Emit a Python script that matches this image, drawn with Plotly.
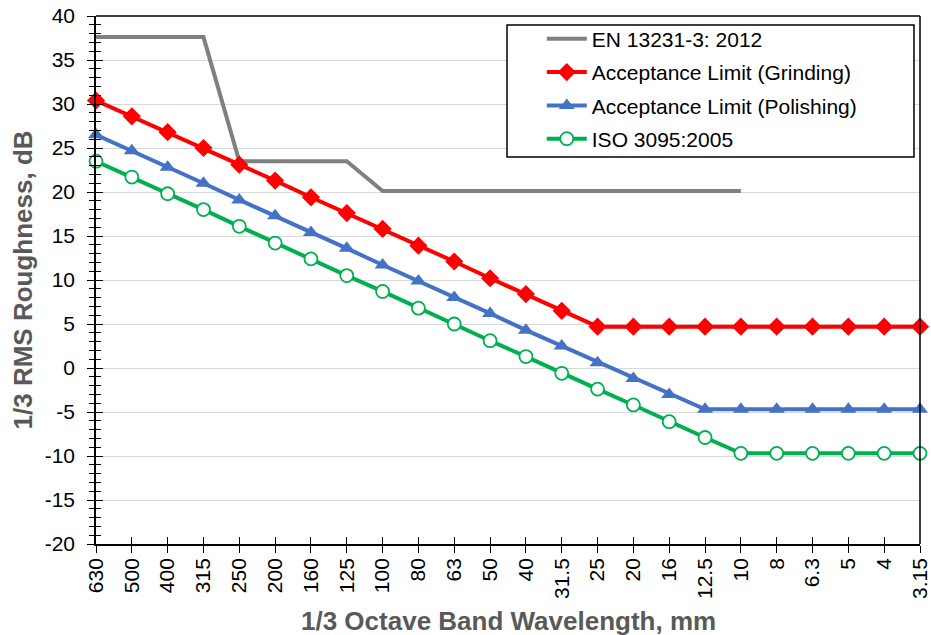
import plotly.graph_objects as go

categories = ["630", "500", "400", "315", "250", "200", "160", "125", "100", "80",
              "63", "50", "40", "31.5", "25", "20", "16", "12.5", "10", "8",
              "6.3", "5", "4", "3.15"]

en13231 = [37.6, 37.6, 37.6, 37.6, 23.5, 23.5, 23.5, 23.5, 20.1, 20.1,
           20.1, 20.1, 20.1, 20.1, 20.1, 20.1, 20.1, 20.1, 20.1, None,
           None, None, None, None]
grinding = [30.4, 28.6, 26.8, 25.0, 23.1, 21.3, 19.4, 17.6, 15.8, 13.9,
            12.1, 10.2, 8.4, 6.5, 4.7, 4.7, 4.7, 4.7, 4.7, 4.7,
            4.7, 4.7, 4.7, 4.7]
polishing = [26.5, 24.7, 22.8, 21.0, 19.1, 17.3, 15.4, 13.6, 11.7, 9.9,
             8.0, 6.2, 4.3, 2.5, 0.6, -1.2, -3.0, -4.7, -4.7, -4.7,
             -4.7, -4.7, -4.7, -4.7]
iso3095 = [23.5, 21.7, 19.8, 18.0, 16.1, 14.2, 12.4, 10.5, 8.7, 6.8,
           5.0, 3.1, 1.3, -0.6, -2.4, -4.2, -6.1, -7.9, -9.7, -9.7,
           -9.7, -9.7, -9.7, -9.7]

y_tick_values = [-20, -15, -10, -5, 0, 5, 10, 15, 20, 25, 30, 35, 40]
y_tick_labels = ["-20", "-15", "-10", "-5", "0", "5", "10", "15", "20", "25", "30", "35", "40"]

FONT = "Arial, Liberation Sans, sans-serif"
LW = 4

fig = go.Figure()
fig.add_trace(go.Scatter(x=categories, y=en13231, name="EN 13231-3: 2012", mode="lines",
                         legendgroup="a",
                         line=dict(color="#808080", width=LW), cliponaxis=False))
fig.add_trace(go.Scatter(x=categories, y=grinding, name="Acceptance Limit (Grinding)", mode="lines+markers",
                         legendgroup="b",
                         line=dict(color="#ff0000", width=LW),
                         marker=dict(symbol="diamond", size=14, color="#ff0000"), cliponaxis=False))
fig.add_trace(go.Scatter(x=categories, y=polishing, name="Acceptance Limit (Polishing)", mode="lines+markers",
                         legendgroup="c",
                         line=dict(color="#4472c4", width=LW),
                         marker=dict(symbol="triangle-up", size=14, color="#4472c4"), cliponaxis=False))
fig.add_trace(go.Scatter(x=categories, y=iso3095, name="ISO 3095:2005", mode="lines+markers",
                         legendgroup="d",
                         line=dict(color="#00b050", width=LW),
                         marker=dict(symbol="circle", size=13, color="white",
                                     line=dict(color="#00b050", width=1.8)), cliponaxis=False))
# invisible trace for the overlay axes (crossing tick marks)
fig.add_trace(go.Scatter(x=categories, y=grinding, xaxis="x2", yaxis="y2", mode="lines",
                         line=dict(width=0), showlegend=False, hoverinfo="skip", opacity=0))

fig.update_layout(
    width=931, height=635,
    margin=dict(l=96, r=11, t=16, b=91, autoexpand=False),
    paper_bgcolor="white", plot_bgcolor="white",
    font=dict(family=FONT, size=21, color="black"),
    showlegend=True,
    legend=dict(x=0.541, y=0.995, xanchor="left", yanchor="top",
                borderwidth=0, bgcolor="rgba(0,0,0,0)",
                font=dict(family=FONT, size=21, color="black"),
                itemwidth=40, tracegroupgap=3),
    xaxis=dict(type="category", categoryorder="array", categoryarray=categories,
               range=[0, 23], tickangle=-90, automargin=False,
               showline=True, linecolor="black", linewidth=1.5, mirror=False,
               ticks="outside", ticklen=7, tickcolor="black", tickwidth=1.2,
               ticklabelstandoff=-3,
               showgrid=False, zeroline=False,
               tickfont=dict(family=FONT, size=21, color="black")),
    yaxis=dict(range=[-20, 40], tickvals=y_tick_values, ticktext=y_tick_labels, automargin=False,
               showline=True, linecolor="black", linewidth=1.5,
               ticks="outside", ticklen=7, tickcolor="black", tickwidth=1.2,
               ticklabelstandoff=8,
               minor=dict(dtick=1, ticks="outside", ticklen=5, tickcolor="black", tickwidth=1, showgrid=False),
               showgrid=True, gridcolor="#d9d9d9", gridwidth=1, zeroline=False,
               tickfont=dict(family=FONT, size=21, color="black")),
    xaxis2=dict(type="category", categoryorder="array", categoryarray=categories,
                range=[0, 23], overlaying="x", side="bottom", automargin=False,
                ticks="inside", ticklen=7, tickcolor="black", tickwidth=1.2,
                showticklabels=False, showgrid=False, zeroline=False, showline=False),
    yaxis2=dict(range=[-20, 40], tickvals=y_tick_values, overlaying="y", side="left", automargin=False,
                ticks="inside", ticklen=7, tickcolor="black", tickwidth=1.2,
                minor=dict(dtick=1, ticks="inside", ticklen=5, tickcolor="black", tickwidth=1, showgrid=False),
                showticklabels=False, showgrid=False, zeroline=False, showline=False),
)

# axis titles
fig.add_annotation(text="<b>1/3 Octave Band Wavelength, mm</b>", xref="paper", yref="paper",
                   x=0.5, y=-0.146, xanchor="center", yanchor="middle", showarrow=False,
                   font=dict(family=FONT, size=26, color="#595959"))
fig.add_annotation(text="<b>1/3 RMS Roughness, dB</b>", xref="paper", yref="paper",
                   x=-0.088, y=0.5, xanchor="center", yanchor="middle", showarrow=False,
                   textangle=-90, font=dict(family=FONT, size=26, color="#595959"))

# top and right border of plot area
fig.add_shape(type="line", xref="paper", yref="paper", x0=0, x1=1, y0=1, y1=1,
              line=dict(color="black", width=1.5))
fig.add_shape(type="line", xref="paper", yref="paper", x0=1, x1=1, y0=0, y1=1,
              line=dict(color="black", width=1.5))
# legend box
fig.add_shape(type="rect", xref="paper", yref="paper", x0=0.4988, x1=0.9927, y0=0.733, y1=0.983,
              line=dict(color="black", width=1.5), fillcolor="white", layer="above")

fig.write_html("out.html", post_script="document.body.style.margin='0';",
               config={"displayModeBar": False})
